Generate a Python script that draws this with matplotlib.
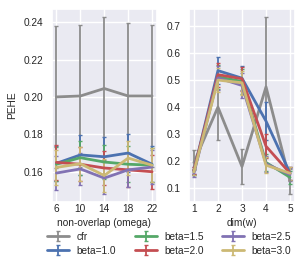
import numpy as np
import matplotlib
matplotlib.use("Agg")
import matplotlib.pyplot as plt
import seaborn as sns

# left panel: non-overlap (omega)
omega = [6, 10, 14, 18, 22]
cfr_omega = [0.2000, 0.2005, 0.2045, 0.2005, 0.2005]
cfr_omega_err = [0.038, 0.038, 0.038, 0.039, 0.038]
beta_omega = {
    "beta=1.0": [0.1645, 0.1690, 0.1680, 0.1700, 0.1640],
    "beta=1.5": [0.1640, 0.1675, 0.1652, 0.1640, 0.1635],
    "beta=2.0": [0.1650, 0.1640, 0.1620, 0.1610, 0.1600],
    "beta=2.5": [0.1593, 0.1615, 0.1566, 0.1610, 0.1625],
    "beta=3.0": [0.1623, 0.1643, 0.1580, 0.1673, 0.1635],
}
beta_omega_err = {
    "beta=1.0": [0.0095, 0.0105, 0.0105, 0.0100, 0.0095],
    "beta=1.5": [0.0090, 0.0090, 0.0090, 0.0095, 0.0090],
    "beta=2.0": [0.0095, 0.0090, 0.0090, 0.0090, 0.0090],
    "beta=2.5": [0.0090, 0.0085, 0.0085, 0.0090, 0.0090],
    "beta=3.0": [0.0095, 0.0090, 0.0090, 0.0090, 0.0090],
}

# right panel: dim(w)
dim_w = [1, 2, 3, 4, 5]
cfr_dim = [0.195, 0.400, 0.180, 0.475, 0.125]
cfr_dim_err = [0.045, 0.120, 0.065, 0.260, 0.045]
beta_dim = {
    "beta=1.0": [0.165, 0.535, 0.507, 0.348, 0.155],
    "beta=1.5": [0.160, 0.512, 0.495, 0.195, 0.140],
    "beta=2.0": [0.165, 0.520, 0.505, 0.255, 0.155],
    "beta=2.5": [0.155, 0.508, 0.480, 0.190, 0.150],
    "beta=3.0": [0.160, 0.500, 0.490, 0.185, 0.155],
}
beta_dim_err = {
    "beta=1.0": [0.012, 0.050, 0.045, 0.070, 0.025],
    "beta=1.5": [0.012, 0.045, 0.045, 0.030, 0.025],
    "beta=2.0": [0.012, 0.045, 0.045, 0.045, 0.025],
    "beta=2.5": [0.012, 0.045, 0.045, 0.030, 0.025],
    "beta=3.0": [0.012, 0.045, 0.045, 0.030, 0.025],
}

sns.set_theme(style="darkgrid", palette="deep")
plt.rcParams["font.family"] = ["Liberation Sans", "DejaVu Sans"]
fs = 7.3

pal = sns.color_palette("deep")
colors = {
    "cfr": pal[7],
    "beta=1.0": pal[0],
    "beta=1.5": pal[2],
    "beta=2.0": pal[3],
    "beta=2.5": pal[4],
    "beta=3.0": pal[8],
}

fig = plt.figure(figsize=(3.04, 2.65), dpi=100)
ax1 = fig.add_axes([0.170, 0.239, 0.346, 0.727])
ax2 = fig.add_axes([0.622, 0.239, 0.348, 0.727])

ekw = dict(lw=2, capsize=1.5, elinewidth=1.3, capthick=1.0)

ax1.errorbar(omega, cfr_omega, yerr=cfr_omega_err, color=colors["cfr"], label="cfr", **ekw)
for name, vals in beta_omega.items():
    ax1.errorbar(omega, vals, yerr=beta_omega_err[name], color=colors[name], label=name, **ekw)

ax2.errorbar(dim_w, cfr_dim, yerr=cfr_dim_err, color=colors["cfr"], label="cfr", **ekw)
for name, vals in beta_dim.items():
    ax2.errorbar(dim_w, vals, yerr=beta_dim_err[name], color=colors[name], label=name, **ekw)

ax1.set_xticks(omega)
ax1.set_xlim(5.2, 22.8)
ax1.set_ylim(0.144, 0.247)
ax1.set_yticks([0.16, 0.18, 0.20, 0.22, 0.24])
ax1.set_xlabel("non-overlap (omega)", fontsize=fs, labelpad=3)
ax1.set_ylabel("PEHE", fontsize=fs, labelpad=5)

ax2.set_xticks(dim_w)
ax2.set_xlim(0.8, 5.2)
ax2.set_ylim(0.050, 0.763)
ax2.set_yticks([0.1, 0.2, 0.3, 0.4, 0.5, 0.6, 0.7])
ax2.set_xlabel("dim(w)", fontsize=fs, labelpad=3)

for ax in (ax1, ax2):
    ax.tick_params(labelsize=fs, length=0)
    ax.tick_params(axis="x", pad=1.8)
    ax.tick_params(axis="y", pad=6)

handles, labels = ax1.get_legend_handles_labels()
fig.legend(handles, labels, ncol=3, loc="upper left", bbox_to_anchor=(0.156, 0.126),
           frameon=False, fontsize=fs, handlelength=2.17, columnspacing=1.8,
           labelspacing=0.42, borderpad=0, borderaxespad=0, handletextpad=0.73)

fig.savefig("out.png", dpi=100)
